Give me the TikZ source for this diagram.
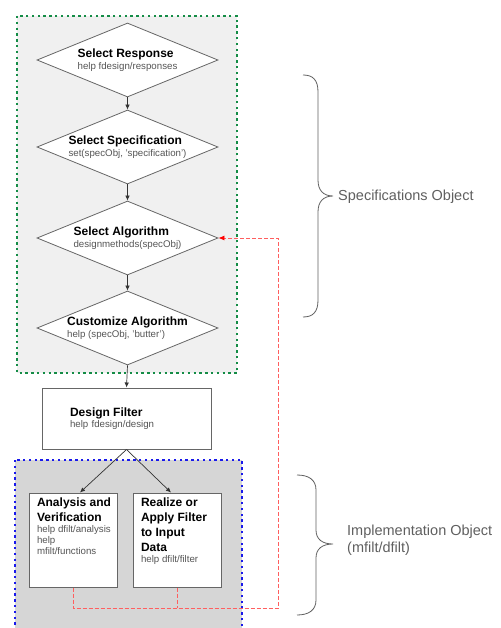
\documentclass[tikz,border=0pt]{standalone}
\usepackage{fontspec}
\setmainfont{Liberation Sans}
\usetikzlibrary{shapes.geometric,arrows.meta}

\definecolor{specgreen}{RGB}{20,140,70}
\definecolor{implblue}{RGB}{25,25,235}
\definecolor{specfill}{RGB}{240,240,240}
\definecolor{implfill}{RGB}{214,214,214}
\definecolor{fbred}{RGB}{255,95,95}
\definecolor{helpgray}{RGB}{85,85,85}
\definecolor{bracegray}{RGB}{95,95,95}

\newcommand{\titletext}[1]{{\fontsize{12}{12.5}\selectfont\bfseries #1}}
\newcommand{\helptext}[1]{{\color{helpgray}#1}}

\tikzset{
	decision/.style={diamond, draw=black!60, line width=0.8pt, fill=white,
		minimum width=181pt, minimum height=74pt, inner sep=0pt},
	steplabel/.style={align=left, inner sep=0pt, font=\fontsize{9.7}{12.5}\selectfont},
	implbox/.style={draw=black!60, line width=1pt, fill=white, inner xsep=4pt, inner ysep=5pt},
	flow/.style={-{Latex[length=5pt,width=4.5pt]}, draw=black!80, line width=0.7pt},
	feedback/.style={draw=fbred, line width=0.8pt, dash pattern=on 4pt off 2pt},
	region/.style={line width=2.4pt, dash pattern=on 2.4pt off 3.4pt},
	curly/.style={draw=bracegray, line width=0.8pt},
	bracetext/.style={text=bracegray, align=left, inner sep=0pt,
		font=\fontsize{14.5}{17}\selectfont}
}

\begin{document}
\begin{tikzpicture}[x=1pt,y=-1pt]
\useasboundingbox (0,0) rectangle (500,628);
\clip (0,0) rectangle (500,628);

%Regions
\draw[region, specgreen, fill=specfill] (17,16) rectangle (237,373);
\draw[region, implblue, fill=implfill] (15,460) rectangle (242,650);

\begin{scope}[every node/.style={decision}]
	%Specification steps
	\node[label={[steplabel]center:{\titletext{Select Response}\\\helptext{help fdesign/responses}}}] (resp) at (127.5,60) {};
	\node[label={[steplabel]center:{\titletext{Select Specification}\\\helptext{set(specObj, 'specification')}}}] (spec) at (127.5,147) {};
	\node[label={[steplabel]center:{\titletext{Select Algorithm}\\\helptext{designmethods(specObj)}}}] (algo) at (127.5,238) {};
	\node[label={[steplabel]center:{\titletext{Customize Algorithm}\\\helptext{help (specObj, 'butter')}}}] (cust) at (127.5,328) {};
\end{scope}

%Design
\node[draw=black!60, line width=1pt, fill=white, minimum width=169pt, minimum height=61pt,
	inner xsep=28pt, text width=113pt, align=left, font=\fontsize{9.7}{11.5}\selectfont]
	(design) at (126.5,418.5) {\titletext{Design Filter}\\\helptext{help fdesign/design}};

\begin{scope}[every node/.style={implbox}]
	%Implementation
	\node (anal) at (73,540) {\parbox[c][84pt][t]{80pt}{\raggedright\leftskip=4pt
		\fontsize{12}{15}\selectfont\bfseries Analysis and\\Verification\par
		\fontsize{9.7}{11}\selectfont\mdseries\color{helpgray}help dfilt/analysis\\help\\mfilt/functions\par}};
	\node (real) at (177,540) {\parbox[c][84pt][t]{80pt}{\raggedright\leftskip=4pt
		\fontsize{12}{15}\selectfont\bfseries Realize or\\Apply Filter\\to Input\\Data\par
		\fontsize{9.7}{11}\selectfont\mdseries\color{helpgray}help dfilt/filter\par}};
\end{scope}

\coordinate (fbcorner) at (278,608);

\begin{scope}[flow]
	\draw (resp.south) -- (spec.north);
	\draw (spec.south) -- (algo.north);
	\draw (algo.south) -- (cust.north);
	\draw (cust.south) -- (design.north);
	\draw (design.south) -- ([xshift=7pt]anal.north);
	\draw (design.south) -- ([xshift=-6pt]real.north);
\end{scope}

%Feedback
\draw[feedback, -{Latex[length=6pt,width=5pt,color=red]}] (anal.south) |- (fbcorner) |- (algo.east);
\draw[feedback] (real.south) -- (real.south |- fbcorner);

%Braces
\draw[curly] (303,75) .. controls (313,75) and (318,80) .. (318,92) -- (318,180)
	.. controls (318,190) and (323,196) .. (333,196)
	.. controls (323,196) and (318,202) .. (318,212) -- (318,300)
	.. controls (318,312) and (313,317) .. (303,317);
\node[bracetext, anchor=west] (specobj) at (338,197) {Specifications Object};

\draw[curly] (297,475) .. controls (309,475) and (316,480) .. (316,490) -- (316,530)
	.. controls (316,539) and (322,544) .. (333,544)
	.. controls (322,544) and (316,549) .. (316,558) -- (316,600)
	.. controls (316,610) and (309,615) .. (297,615);
\node[bracetext, anchor=west] (implobj) at (347,540) {Implementation Object\\(mfilt/dfilt)};

\end{tikzpicture}
\end{document}
